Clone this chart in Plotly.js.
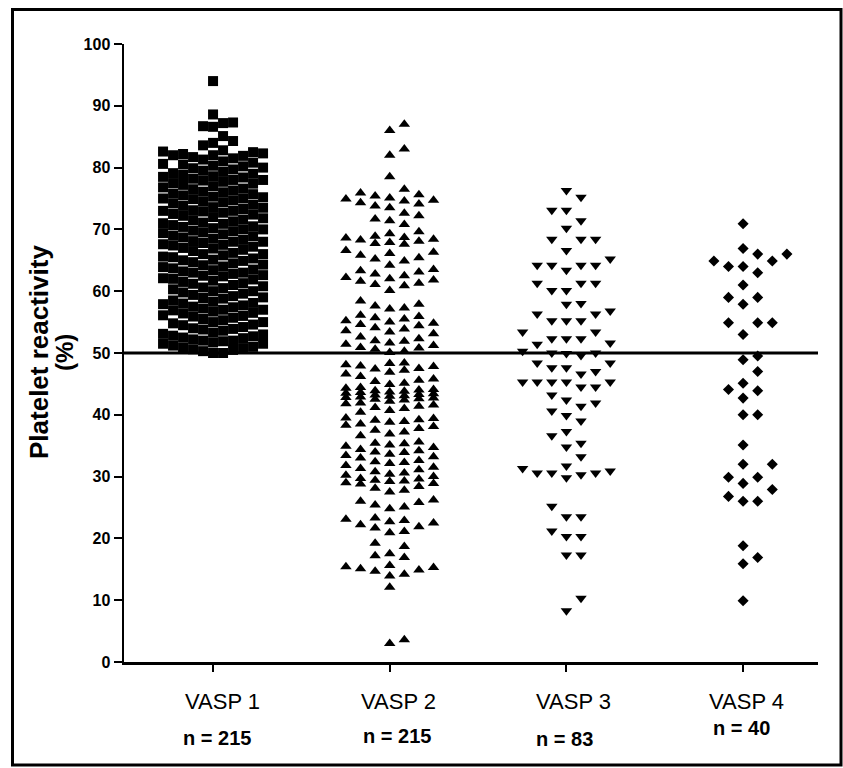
<!DOCTYPE html>
<html><head><meta charset="utf-8">
<script src="https://cdn.plot.ly/plotly-3.0.1.min.js"></script>
<style>html,body{margin:0;padding:0;background:#fff;overflow:hidden}#chart{width:843px;height:768px}</style>
</head><body><div id="chart"></div>
<script>
// ---------------- data ----------------
const categories = ["VASP 1", "VASP 2", "VASP 3", "VASP 4"];
const sampleSizes = ["n = 215", "n = 215", "n = 83", "n = 40"];
const thresholdValue = 50;
const yTicks = [0, 10, 20, 30, 40, 50, 60, 70, 80, 90, 100];

const vasp1 = [
  50, 50, 50.3, 50.5, 50.6, 50.8, 50.9, 51, 51.2, 51.5, 51.5, 51.7, 51.9,
  52, 52, 52.2, 52.4, 52.5, 52.7, 52.8, 53, 53.1, 53.3, 53.6, 53.8, 53.9,
  54, 54.2, 54.5, 54.6, 54.8, 55, 55, 55.3, 55.5, 55.7, 55.9,
  56, 56.1, 56.4, 56.5, 56.7, 56.9, 57, 57, 57.2, 57.4, 57.5, 57.7, 57.9,
  58, 58.1, 58.3, 58.5, 58.8, 58.9, 59, 59.2, 59.4, 59.6, 59.8,
  60, 60, 60.3, 60.5, 60.6, 60.8, 61, 61.2, 61.3, 61.5, 61.7, 61.9,
  62, 62.1, 62.4, 62.5, 62.6, 62.8, 63, 63, 63.2, 63.4, 63.5, 63.7, 63.9,
  64, 64.2, 64.3, 64.5, 64.7, 64.9, 65, 65.1, 65.3, 65.5, 65.6, 65.8,
  66, 66, 66.2, 66.5, 66.7, 66.9, 67, 67.2, 67.4, 67.5, 67.6, 67.8,
  68, 68, 68.1, 68.3, 68.5, 68.7, 68.9, 69, 69.2, 69.4, 69.5, 69.7, 69.8,
  70, 70, 70.2, 70.4, 70.5, 70.7, 70.9, 71, 71.1, 71.3, 71.5, 71.6, 71.8,
  72, 72.2, 72.4, 72.5, 72.7, 72.9, 73, 73, 73.1, 73.3, 73.5, 73.6, 73.8,
  74, 74.2, 74.4, 74.5, 74.7, 74.9, 75, 75, 75.2, 75.3, 75.5, 75.7, 75.8,
  76, 76.1, 76.3, 76.5, 76.6, 76.8, 77, 77.2, 77.4, 77.5, 77.7, 77.9,
  78, 78, 78.2, 78.4, 78.5, 78.6, 78.8, 79, 79.1, 79.3, 79.5, 79.7, 79.9,
  80, 80.2, 80.3, 80.5, 80.6, 80.8, 81, 81.3, 81.5, 81.7, 81.9,
  82, 82, 82.2, 82.3, 82.5, 82.6, 82.8,
  83.6, 84.0, 84.3, 85.1, 86.6, 86.7, 87.2, 87.3, 88.6, 94
];

const vasp2 = [
  87, 86, 83, 82, 78.5, 76.5, 75.9,
  75.6, 75.1, 74.6, 74.3, 73.8, 74.9, 75.4, 73.5, 74.1, 74.7,
  72.6, 71.4, 72.2, 70.8, 71.7,
  69.6, 68.6, 67.7, 68.9, 67.9, 68.3, 67.6, 68.4, 68.1, 68.7, 69.3,
  66.6, 66.1, 65.8, 65.2, 64.9, 65.4, 66.3, 64.2,
  63.1, 62.2, 61.8, 61.1, 63.5, 62.5, 60.9, 62.0, 63.3, 61.6, 62.8, 61.3, 60.1,
  57.3, 57.6, 57.9, 57.1, 58.4,
  55.7, 55.2, 54.4, 54.8, 55.5, 53.4, 54.1, 56.1, 54.6, 53.9, 53.1, 55.9, 52.6, 55.0, 53.6, 52.3,
  51.2, 50.6, 50.3, 51.9, 51.6, 52.0, 51.4, 50.8, 50.9, 50.1,
  48.4, 48.1, 47.8, 47.2, 46.9, 48.3, 47.5, 46.6, 47.4, 47.9, 46.2, 45.1, 45.4, 44.9, 45.6, 45.8,
  44.4, 43.8, 43.4, 43.0, 42.6, 43.2, 42.8, 44.0, 43.6, 42.9, 43.1,
  43.5, 42.7, 44.3, 43.3, 42.5, 43.9, 42.4, 43.7, 44.1, 42.2, 41.8,
  41.9, 41.6, 41.0, 40.7, 41.4, 40.4, 41.2,
  39.4, 39.1, 38.8, 38.5, 39.2, 38.9, 39.5, 38.1, 37.8, 37.2, 36.9, 37.5, 36.6, 38.3,
  35.1, 33.6, 34.4, 35.4, 33.2, 35.6, 33.9, 34.7, 33.4, 34.2, 33.0, 34.9, 34.0, 35.3,
  32.6, 32.1, 31.5, 32.3, 31.8, 32.4, 31.1, 30.6, 30.4, 30.8, 30.0, 30.2, 31.3,
  29.6, 29.0, 28.1, 29.2, 27.8, 29.4, 28.8, 29.7, 28.4, 28.9, 27.5, 29.3,
  26.2, 25.8, 25.1, 24.8, 25.4, 26.0, 23.3, 22.9, 22.2, 21.9, 22.5, 21.7, 21.1, 22.7, 20.9, 23.1,
  19.2, 18.7,
  17.2, 15.3, 14.9, 15.1, 15.6, 16.9, 14.7, 17.5, 15.4, 13.9, 14.2, 12.1,
  3.0, 3.6
];

const vasp3 = [
  76.3, 75.2, 73.1, 73.1, 71.4, 70.2, 68.4, 68.4, 68.4, 66.6, 65.2,
  64.2, 64.2, 64.2, 64.2, 63.4, 61.3, 61.3, 61.3, 60.1, 60.1,
  58.0, 57.9, 56.8, 56.3, 56.3, 55.2, 55.2, 55.2, 53.4, 53.4,
  52.3, 52.3, 52.3, 51.6, 51.4, 50.3, 49.6, 50.0, 49.9, 50.0,
  48.4, 48.4, 47.6, 47.0, 46.6, 47.6, 45.3, 45.3, 45.3, 45.3, 44.5, 44.5, 45.3,
  43.2, 42.4, 41.9, 41.4, 40.6, 39.9, 39.0,
  37.3, 36.6, 35.4, 34.8, 33.2, 31.7, 31.3,
  30.6, 30.6, 29.8, 30.3, 30.6, 30.9,
  25.2, 23.5, 23.5, 21.2, 20.3, 20.3, 17.3, 17.3, 10.3, 8.3
];

const vasp4 = [
  70.9, 66.9, 66.0, 66.0, 64.9, 64.9, 64.0, 64.0, 63.0, 61.0,
  59.0, 59.0, 57.9, 54.9, 54.9, 54.9, 53.0, 49.5, 48.9, 47.0,
  45.1, 44.1, 43.9, 42.7, 40.0, 40.0, 35.1, 32.0, 32.0, 29.9,
  29.9, 28.9, 27.9, 26.8, 26.0, 26.0, 18.8, 16.9, 15.9, 9.9
];

// ---------------- layout geometry ----------------
const W = 843, H = 768;
const M = {l: 124, r: 25, t: 44, b: 106};
const plotW = W - M.l - M.r, plotH = H - M.t - M.b;
const xRange = [-0.504, 3.424], yRange = [0, 100];
const pxPerX = plotW / (xRange[1] - xRange[0]);
const pxPerY = plotH / (yRange[1] - yRange[0]);

// Prism-like scatter spread: deterministic, collision based, limited width
function swarm(values, pitch, rowH, maxK) {
  const order = values.map((v, i) => i).sort((a, b) => values[a] - values[b]);
  const placed = [];
  const off = new Array(values.length).fill(0);
  const half = pitch / 2;
  for (const i of order) {
    const y = values[i] * pxPerY;
    let best = 0, bestClear = -1;
    for (let s = 0; s <= 2 * maxK; s++) {
      const k = s === 0 ? 0 : (s % 2 ? (s + 1) / 2 : -s / 2);
      const x = k * half;
      let clear = Infinity;
      for (const p of placed) {
        if (Math.abs(p.x - x) < pitch - 0.01) {
          const d = Math.abs(p.y - y);
          if (d < clear) clear = d;
        }
      }
      if (clear >= rowH) { best = x; bestClear = clear; break; }
      if (clear > bestClear) { bestClear = clear; best = x; }
    }
    placed.push({x: best, y});
    off[i] = best / pxPerX;
  }
  return off;
}

const groups = [vasp1, vasp2, vasp3, vasp4];
const symbols = ["square", "triangle-up", "triangle-down", "diamond"];
const sizes = [10, 10, 10, 8.5];
const pitches = [10, 14.6, 14.6, 14.6];
const rowHs = [10, 11, 13, 13];
const maxKs = [10, 7, 6, 6];

const traces = groups.map((vals, gi) => {
  const off = swarm(vals, pitches[gi], rowHs[gi], maxKs[gi]);
  return {
    type: "scatter", mode: "markers",
    x: vals.map((v, i) => gi + off[i]),
    y: vals,
    name: categories[gi],
    marker: {symbol: symbols[gi], size: sizes[gi], color: "#000", line: {width: 0}},
    cliponaxis: false, hoverinfo: "skip", showlegend: false
  };
});

const FONT = "Liberation Sans, Arial, Helvetica, sans-serif";
const py = px => (H - M.b - px) / plotH;   // pixel row -> paper y
const pxX = px => (px - M.l) / plotW;     // pixel column -> paper x

const labelShift = [9, 9, 7, 3];
const nShift = [4, 7, -2, -2];
const nY = [738, 736, 739, 728];

const annotations = [];
categories.forEach((c, i) => {
  annotations.push({x: i, xref: "x", y: py(701), yref: "paper", text: c, showarrow: false,
    xanchor: "center", yanchor: "middle", xshift: labelShift[i],
    font: {family: FONT, size: 22, color: "#000"}});
  annotations.push({x: i, xref: "x", y: py(nY[i]), yref: "paper", text: sampleSizes[i], showarrow: false,
    xanchor: "center", yanchor: "middle", xshift: nShift[i],
    font: {family: FONT, size: 20, color: "#000", weight: "bold"}});
});
annotations.push({x: pxX(39), xref: "paper", y: py(352), yref: "paper", text: "Platelet reactivity",
  textangle: -90, showarrow: false, xanchor: "center", yanchor: "middle",
  font: {family: FONT, size: 26, color: "#000", weight: "bold"}});
annotations.push({x: pxX(64), xref: "paper", y: py(353), yref: "paper", text: "(%)",
  textangle: -90, showarrow: false, xanchor: "center", yanchor: "middle",
  font: {family: FONT, size: 24, color: "#000", weight: "bold"}});

const layout = {
  width: W, height: H,
  margin: {l: M.l, r: M.r, t: M.t, b: M.b, pad: 0},
  paper_bgcolor: "#fff", plot_bgcolor: "#fff",
  showlegend: false,
  xaxis: {range: xRange, tickvals: [0, 1, 2, 3], showticklabels: false,
    ticks: "outside", ticklen: 7, tickwidth: 2, tickcolor: "#000",
    showline: true, linewidth: 2.5, linecolor: "#000",
    showgrid: false, zeroline: false, fixedrange: true},
  yaxis: {range: yRange, tickvals: yTicks, ticks: "outside", ticklen: 8, tickwidth: 2,
    tickcolor: "#000", showline: true, linewidth: 2.5, linecolor: "#000",
    showgrid: false, zeroline: false, fixedrange: true,
    tickfont: {family: FONT, size: 16, color: "#000", weight: "bold"}},
  shapes: [
    {type: "line", xref: "paper", yref: "y", x0: 0, x1: 1, y0: thresholdValue, y1: thresholdValue,
      line: {color: "#000", width: 3}},
    {type: "rect", xref: "paper", yref: "paper", x0: pxX(12.5), x1: pxX(841), y0: py(9.5), y1: py(765),
      line: {color: "#000", width: 3}, fillcolor: "rgba(0,0,0,0)"}
  ],
  annotations: annotations
};

Plotly.newPlot("chart", traces, layout, {staticPlot: true, displayModeBar: false});
</script></body></html>
